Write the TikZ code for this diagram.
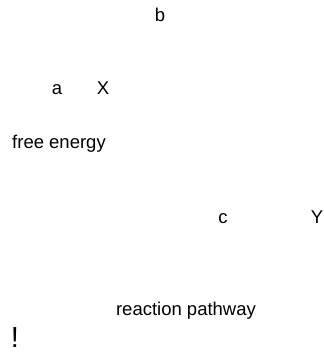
\documentclass[tikz,border=0pt]{standalone}
\usepackage{fontspec}
\setmainfont{Liberation Sans}
\begin{document}
\begin{tikzpicture}[x=1pt,y=-1pt,
  lbl/.style={anchor=base,inner sep=0pt,font=\fontsize{18.5}{22}\selectfont},
  big/.style={anchor=base,inner sep=0pt,font=\fontsize{29}{34}\selectfont}]
\useasboundingbox (0,0) rectangle (324,354);
\node[lbl] (b) at (160,21) {b};
\node[lbl] (a) at (57,94) {a};
\node[lbl] (X) at (103,94) {X};
\node[lbl] (fe) at (59,148) {free energy};
\node[lbl] (c) at (223,223) {c};
\node[lbl] (Y) at (317,223) {Y};
\node[lbl] (rp) at (186,315) {reaction pathway};
\node[big] (ex) at (15,347) {!};
\end{tikzpicture}
\end{document}
